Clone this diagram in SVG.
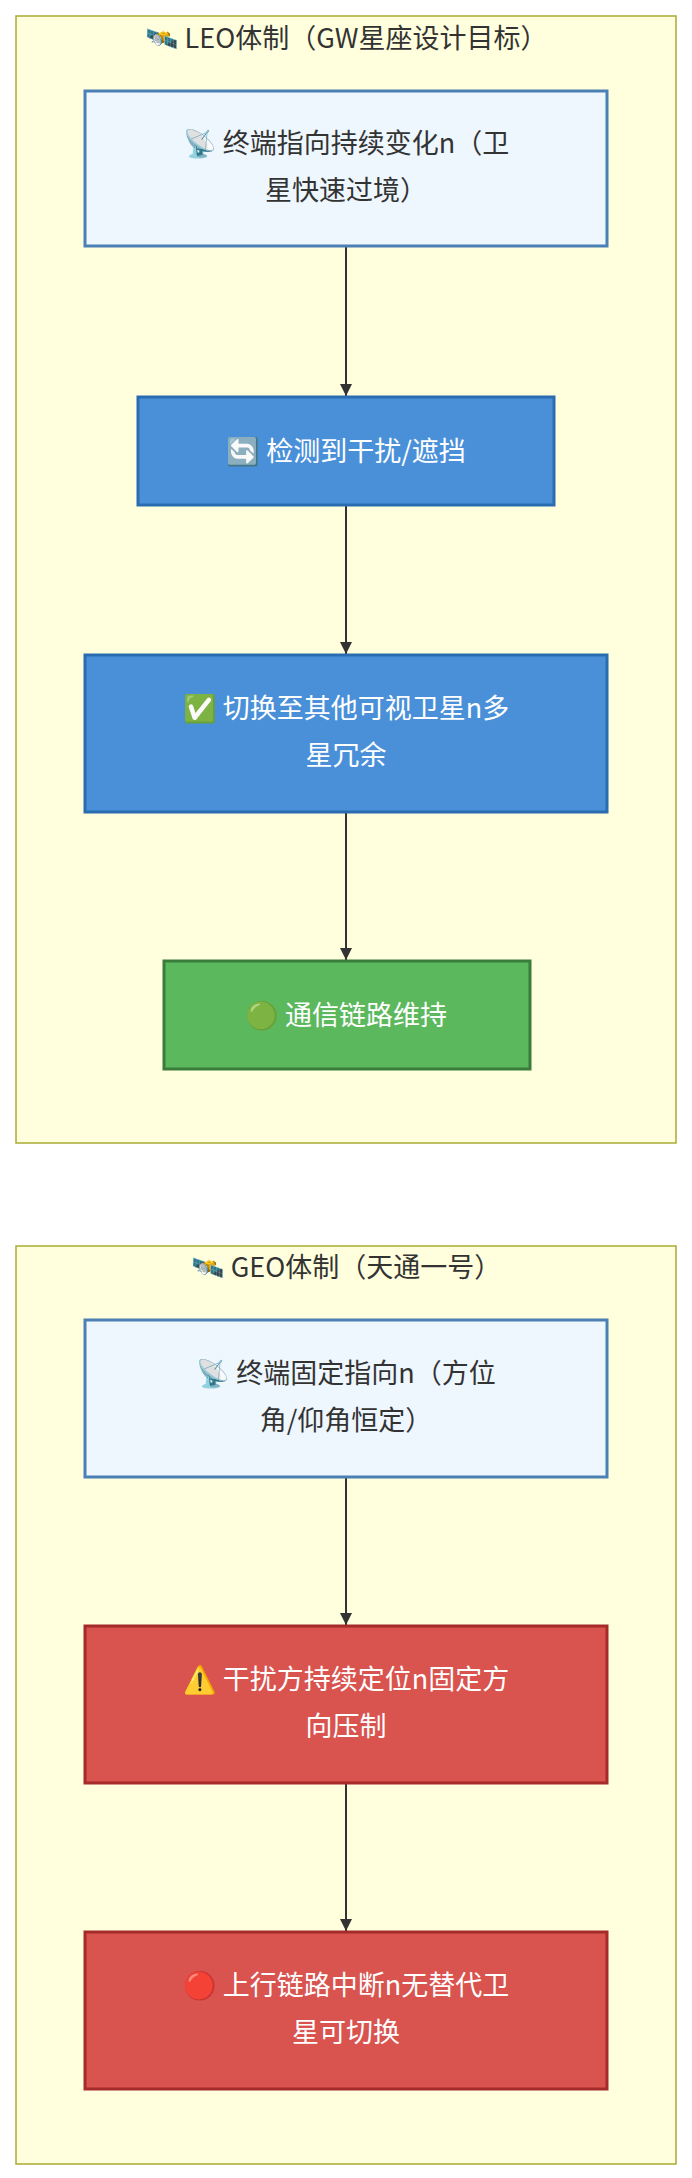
<svg xmlns="http://www.w3.org/2000/svg" width="692" height="2178" viewBox="0 0 692 2178">
<style>
text{font-family:"Noto Sans CJK SC","Noto Sans",sans-serif;font-size:27px;text-anchor:middle}
.cl{fill:#ffffde;stroke:#aaaa33;stroke-width:1.5}
.lt rect{fill:#eef6fe;stroke:#4a80b4;stroke-width:3}
.bl rect{fill:#4a90d9;stroke:#2a6cb0;stroke-width:3}
.gr rect{fill:#5cb85c;stroke:#3a7d3a;stroke-width:3}
.rd rect{fill:#d9534f;stroke:#a52a2a;stroke-width:3}
.lt text{fill:#333}
.bl text,.gr text,.rd text{fill:#fff}
.c line{stroke:#333;stroke-width:2;marker-end:url(#a)}
</style>
<defs><marker id="a" viewBox="0 0 10 10" refX="10" refY="5" markerWidth="6" markerHeight="6" orient="auto"><path d="M0,0L10,5L0,10z" fill="#333"/></marker></defs>
<g id="leo"><rect class="cl" x="16" y="16" width="660" height="1127"/><text x="346" y="48" fill="#333">🛰️ LEO体制（GW星座设计目标）</text></g>
<g id="geo"><rect class="cl" x="16" y="1246" width="660" height="918"/><text x="346" y="1277" fill="#333">🛰️ GEO体制（天通一号）</text></g>
<g class="c">
<line x1="346" y1="246" x2="346" y2="396"/>
<line x1="346" y1="505" x2="346" y2="654"/>
<line x1="346" y1="812" x2="346" y2="960"/>
<line x1="346" y1="1477" x2="346" y2="1625"/>
<line x1="346" y1="1783" x2="346" y2="1931"/>
</g>
<g id="n1" class="lt"><rect x="85" y="91" width="522" height="155"/><text x="346" y="153">📡 终端指向持续变化n（卫</text><text x="346" y="200">星快速过境）</text></g>
<g id="n2" class="bl"><rect x="138" y="397" width="416" height="108"/><text x="346" y="461">🔄 检测到干扰/遮挡</text></g>
<g id="n3" class="bl"><rect x="85" y="655" width="522" height="157"/><text x="346" y="718">✅ 切换至其他可视卫星n多</text><text x="346" y="765">星冗余</text></g>
<g id="n4" class="gr"><rect x="164" y="961" width="366" height="108"/><text x="346" y="1025">🟢 通信链路维持</text></g>
<g id="n5" class="lt"><rect x="85" y="1320" width="522" height="157"/><text x="346" y="1383">📡 终端固定指向n（方位</text><text x="346" y="1430">角/仰角恒定）</text></g>
<g id="n6" class="rd"><rect x="85" y="1626" width="522" height="157"/><text x="346" y="1689">⚠️ 干扰方持续定位n固定方</text><text x="346" y="1736">向压制</text></g>
<g id="n7" class="rd"><rect x="85" y="1932" width="522" height="157"/><text x="346" y="1995">🔴 上行链路中断n无替代卫</text><text x="346" y="2042">星可切换</text></g>
</svg>
